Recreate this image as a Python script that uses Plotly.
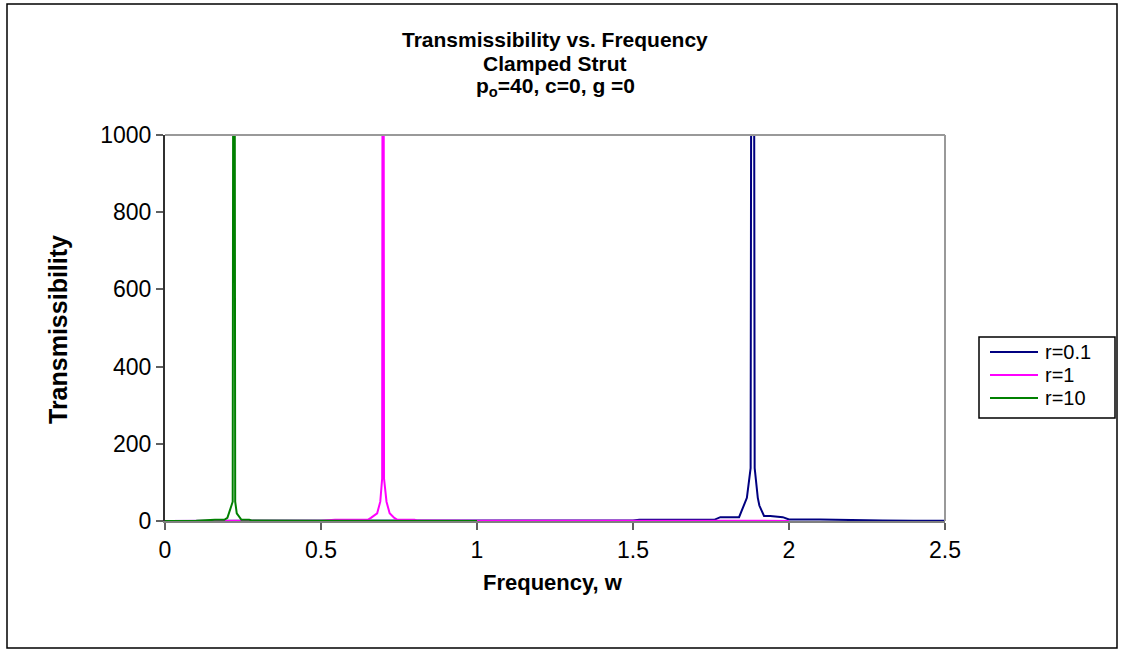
import plotly.graph_objects as go

# ---- data ----
freq_r01 = [0.0, 0.25, 0.5, 0.75, 1.0, 1.25, 1.5, 1.52, 1.6, 1.7, 1.76, 1.78, 1.84, 1.855, 1.865,
            1.877, 1.882, 1.885, 1.89, 1.9, 1.905, 1.92, 1.94, 1.98, 2.0, 2.1, 2.16, 2.2, 2.3, 2.4, 2.5]
trans_r01 = [0.3, 0.4, 0.5, 0.6, 0.8, 1.2, 1.6, 3, 3, 3, 3, 10, 10, 40, 60,
             137, 3000, 3000, 137, 60, 40, 13, 13, 10, 4, 4, 3, 1.5, 1, 0.8, 0.6]

freq_r1 = [0.0, 0.2, 0.4, 0.5, 0.545, 0.6, 0.65, 0.66, 0.68, 0.69, 0.696, 0.699, 0.702,
           0.71, 0.72, 0.735, 0.745, 0.8, 0.81, 1.0, 1.2, 1.5, 1.8, 2.0]
trans_r1 = [0.3, 0.4, 0.6, 0.8, 3, 3, 3, 8, 20, 50, 110, 3000, 110,
            50, 20, 8, 3, 3, 1, 0.6, 0.5, 0.4, 0.3, 0.3]

freq_r10 = [0.0, 0.1, 0.16, 0.19, 0.2, 0.21, 0.217, 0.221, 0.225, 0.23, 0.24,
            0.245, 0.27, 0.28, 0.5, 0.75, 1.0]
trans_r10 = [0.3, 0.5, 3, 3, 8, 30, 50, 3000, 50, 20, 8,
             3, 3, 1, 0.5, 0.3, 0.3]

series_names = ["r=0.1", "r=1", "r=10"]
series_colors = ["#000080", "#FF00FF", "#008000"]

x_ticks = [0, 0.5, 1, 1.5, 2, 2.5]
x_tick_labels = ["0", "0.5", "1", "1.5", "2", "2.5"]
y_ticks = [0, 200, 400, 600, 800, 1000]

title_lines = ["Transmissibility vs. Frequency", "Clamped Strut", "p<sub>o</sub>=40, c=0, g =0"]

FONT = "Liberation Sans, Arial, sans-serif"

fig = go.Figure()
for xs, ys, name, col in zip([freq_r01, freq_r1, freq_r10],
                             [trans_r01, trans_r1, trans_r10],
                             series_names, series_colors):
    fig.add_trace(go.Scatter(x=xs, y=ys, mode="lines", name=name, showlegend=False,
                             line=dict(color=col, width=2), cliponaxis=True))

# plot area pixel geometry
L, R, T, B = 165, 945, 135, 521
W, H = 1124, 655
pw, ph = R - L, B - T


def px(xp):
    return (xp - L) / pw


def py(yp):
    return (B - yp) / ph


fig.update_layout(
    width=W, height=H,
    margin=dict(l=L, r=W - R, t=T, b=H - B, pad=0),
    paper_bgcolor="white", plot_bgcolor="white",
    font=dict(family=FONT, color="black", size=22),
    showlegend=False,
    xaxis=dict(range=[0, 2.5], tickvals=x_ticks, ticktext=x_tick_labels,
               showgrid=False, zeroline=False, showline=True, linecolor="#808080", linewidth=2,
               ticks="outside", ticklen=7, tickcolor="#606060", tickwidth=2,
               tickfont=dict(family=FONT, size=23), fixedrange=True),
    yaxis=dict(range=[0, 1000], tickvals=y_ticks,
               showgrid=False, zeroline=False, showline=True, linecolor="#303030", linewidth=2,
               ticks="outside", ticklen=7, tickcolor="#606060", tickwidth=2,
               tickfont=dict(family=FONT, size=23), fixedrange=True),
)

shapes = [
    # plot area frame (top & right)
    dict(type="line", xref="paper", yref="paper", x0=0, x1=1, y0=1, y1=1,
         line=dict(color="#999999", width=2)),
    dict(type="line", xref="paper", yref="paper", x0=1, x1=1, y0=0, y1=1,
         line=dict(color="#999999", width=2)),
    # outer chart border
    dict(type="rect", xref="paper", yref="paper", x0=px(7), x1=px(1117), y0=py(648), y1=py(4),
         line=dict(color="black", width=1.5), fillcolor="rgba(0,0,0,0)", layer="below"),
    # legend box
    dict(type="rect", xref="paper", yref="paper", x0=px(979), x1=px(1115), y0=py(418), y1=py(337),
         line=dict(color="black", width=1.5), fillcolor="white", layer="below"),
]

legend_rows = [352, 375, 398]
for name, col, yrow in zip(series_names, series_colors, legend_rows):
    shapes.append(dict(type="line", xref="paper", yref="paper",
                       x0=px(990), x1=px(1038), y0=py(yrow), y1=py(yrow),
                       line=dict(color=col, width=2)))
    fig.add_annotation(text=name, xref="paper", yref="paper", x=px(1043), y=py(yrow),
                       xanchor="left", yanchor="middle", showarrow=False,
                       font=dict(family=FONT, size=20, color="black"))
fig.update_layout(shapes=shapes)

for line, yc in zip(title_lines, [39, 63, 87]):
    fig.add_annotation(text="<b>" + line + "</b>", xref="paper", yref="paper",
                       x=px(555), y=py(yc), xanchor="center", yanchor="middle", showarrow=False,
                       font=dict(family=FONT, size=21, color="black"))

fig.add_annotation(text="<b>Frequency, w</b>", xref="paper", yref="paper",
                   x=px(553), y=py(582), xanchor="center", yanchor="middle", showarrow=False,
                   font=dict(family=FONT, size=22, color="black"))
fig.add_annotation(text="<b>Transmissibility</b>", xref="paper", yref="paper",
                   x=px(58), y=py(329), xanchor="center", yanchor="middle", showarrow=False,
                   textangle=-90, font=dict(family=FONT, size=25, color="black"))

fig.write_html("out.html", config={"displayModeBar": False},
               post_script="document.body.style.margin='0px';document.body.style.overflow='hidden';")
